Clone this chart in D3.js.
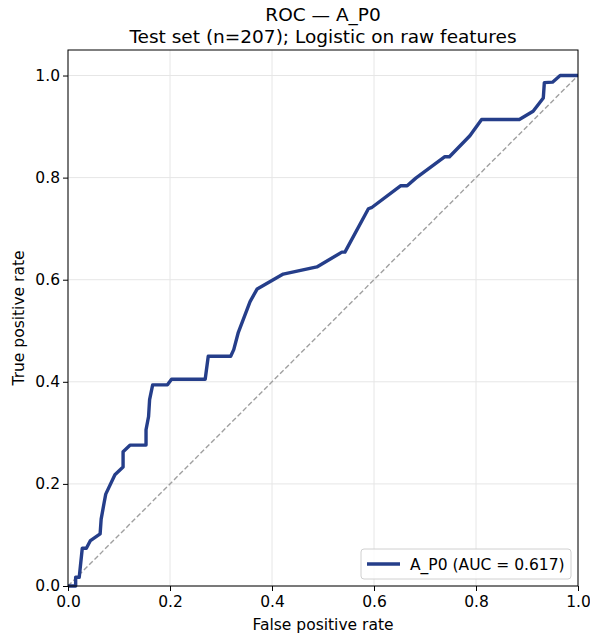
<!DOCTYPE html>
<html>
<head>
<meta charset="utf-8">
<script src="https://cdn.jsdelivr.net/npm/d3@7"></script>
<style>
  body { margin: 0; background: #fff; }
  svg { font-family: "DejaVu Sans", sans-serif; }
</style>
</head>
<body>
<svg id="chart" width="590" height="636"></svg>
<script>
const fpr = [0, 0.015, 0.015, 0.022, 0.028, 0.036, 0.044, 0.063, 0.065, 0.071, 0.074, 0.092, 0.108, 0.108, 0.122, 0.153, 0.153, 0.158, 0.160, 0.166, 0.195, 0.203, 0.269, 0.275, 0.319, 0.325, 0.334, 0.357, 0.371, 0.422, 0.488, 0.537, 0.543, 0.589, 0.595, 0.652, 0.665, 0.682, 0.739, 0.748, 0.788, 0.811, 0.885, 0.912, 0.932, 0.934, 0.950, 0.965, 1.0];
const tpr = [0, 0, 0.017, 0.017, 0.074, 0.074, 0.089, 0.102, 0.131, 0.164, 0.180, 0.218, 0.233, 0.263, 0.276, 0.276, 0.306, 0.332, 0.365, 0.394, 0.394, 0.405, 0.405, 0.450, 0.450, 0.463, 0.497, 0.557, 0.582, 0.611, 0.625, 0.654, 0.654, 0.739, 0.741, 0.784, 0.784, 0.799, 0.841, 0.841, 0.882, 0.914, 0.914, 0.930, 0.956, 0.986, 0.987, 1.0, 1.0];
const xTicks = [0.0, 0.2, 0.4, 0.6, 0.8, 1.0];
const yTicks = [0.0, 0.2, 0.4, 0.6, 0.8, 1.0];
const seriesName = "A_P0";
const auc = 0.617;
const titleLine1 = "ROC — A_P0";
const titleLine2 = "Test set (n=207); Logistic on raw features";
const xLabel = "False positive rate";
const yLabel = "True positive rate";

const svg = d3.select("#chart");
const L = 68, R = 578, T = 50, B = 586;
const x = d3.scaleLinear().domain([0, 1]).range([L, R]);
const y = d3.scaleLinear().domain([0, 1.05]).range([B, T]);

// grid
const g = svg.append("g");
g.selectAll(".gx").data(xTicks).enter().append("line")
  .attr("x1", d => x(d)).attr("x2", d => x(d)).attr("y1", T).attr("y2", B)
  .attr("stroke", "#e6e6e6").attr("stroke-width", 1);
g.selectAll(".gy").data(yTicks).enter().append("line")
  .attr("x1", L).attr("x2", R).attr("y1", d => y(d)).attr("y2", d => y(d))
  .attr("stroke", "#e6e6e6").attr("stroke-width", 1);

// diagonal
svg.append("line")
  .attr("x1", x(0)).attr("y1", y(0)).attr("x2", x(1)).attr("y2", y(1))
  .attr("stroke", "#a0a0a0").attr("stroke-width", 1.4)
  .attr("stroke-dasharray", "5,2.5");

// curve
const pts = fpr.map((f, i) => [f, tpr[i]]);
svg.append("path")
  .datum(pts)
  .attr("fill", "none")
  .attr("stroke", "#253e8a")
  .attr("stroke-width", 3.4)
  .attr("stroke-linejoin", "round")
  .attr("d", d3.line().x(d => x(d[0])).y(d => y(d[1])));

// axes
const xAxis = svg.append("g").attr("transform", `translate(0,${B})`)
  .call(d3.axisBottom(x).tickValues(xTicks).tickFormat(d3.format(".1f")).tickSizeOuter(0).tickSize(5));
const yAxis = svg.append("g").attr("transform", `translate(${L},0)`)
  .call(d3.axisLeft(y).tickValues(yTicks).tickFormat(d3.format(".1f")).tickSizeOuter(0).tickSize(5));
[xAxis, yAxis].forEach(a => {
  a.selectAll("text").attr("font-size", 15.5).attr("fill", "#000").attr("font-family", "DejaVu Sans");
  a.selectAll("line").attr("stroke", "#000").attr("stroke-width", 1);
  a.select(".domain").remove();
});
xAxis.selectAll("text").attr("dy", "0.95em").attr("y", 6);
yAxis.selectAll("text").attr("x", -8);

// frame
svg.append("rect").attr("x", L).attr("y", T).attr("width", R - L).attr("height", B - T)
  .attr("fill", "none").attr("stroke", "#000").attr("stroke-width", 1);

// titles
svg.append("text").attr("x", (L + R) / 2).attr("y", 21).attr("text-anchor", "middle")
  .attr("font-size", 18.5).text(titleLine1);
svg.append("text").attr("x", (L + R) / 2).attr("y", 43).attr("text-anchor", "middle")
  .attr("font-size", 18.5).text(titleLine2);
svg.append("text").attr("x", (L + R) / 2).attr("y", 630).attr("text-anchor", "middle")
  .attr("font-size", 15.5).text(xLabel);
svg.append("text").attr("transform", `translate(24,${(T + B) / 2}) rotate(-90)`)
  .attr("text-anchor", "middle").attr("font-size", 15.5).text(yLabel);

// legend
const lg = svg.append("g");
lg.append("rect").attr("x", 361).attr("y", 549).attr("width", 210).attr("height", 30)
  .attr("rx", 3).attr("fill", "#fff").attr("fill-opacity", 0.8)
  .attr("stroke", "#d0d0d0").attr("stroke-width", 1);
lg.append("line").attr("x1", 367).attr("x2", 400).attr("y1", 564).attr("y2", 564)
  .attr("stroke", "#253e8a").attr("stroke-width", 3.4);
lg.append("text").attr("x", 410).attr("y", 569.5).attr("font-size", 15.5)
  .text(`${seriesName} (AUC = ${auc.toFixed(3)})`);
</script>
</body>
</html>
